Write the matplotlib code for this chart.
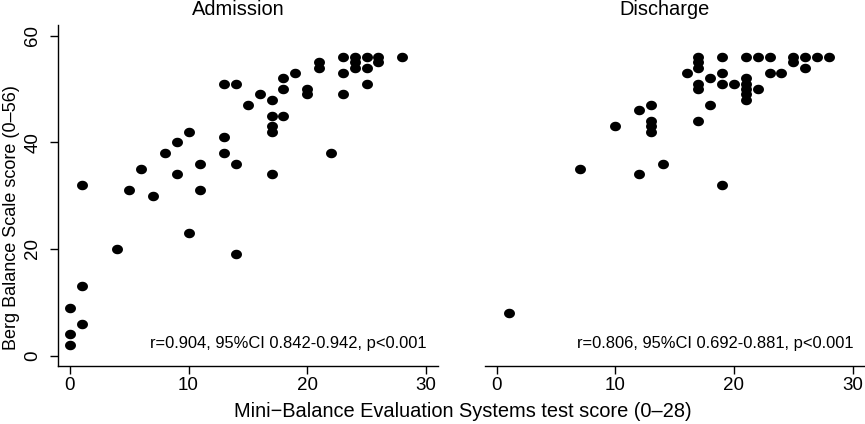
import matplotlib
matplotlib.use("Agg")
import matplotlib.pyplot as plt
import numpy as np
from matplotlib.path import Path

plt.rcParams['font.family'] = ['Liberation Sans', 'DejaVu Sans']

# Admission data (Mini-BESTest, BBS)
adm_x = [0, 0, 0, 1, 1, 1, 4, 5, 6, 7, 8, 9, 9, 10, 10, 11, 11,
         13, 13, 13, 14, 14, 14, 15, 16, 17, 17, 17, 17, 17,
         18, 18, 18, 19, 20, 20, 21, 21, 22, 23, 23, 23,
         24, 24, 24, 25, 25, 25, 26, 26, 28]
adm_y = [2, 4, 9, 6, 13, 32, 20, 31, 35, 30, 38, 34, 40, 42, 23, 31, 36,
         51, 41, 38, 51, 36, 19, 47, 49, 48, 45, 43, 42, 34,
         52, 50, 45, 53, 50, 49, 55, 54, 38, 56, 53, 49,
         56, 55, 54, 56, 54, 51, 56, 55, 56]

# Discharge data
dis_x = [1, 7, 10, 12, 12, 13, 13, 13, 13, 14, 16,
         17, 17, 17, 17, 17, 17, 18, 18, 19, 19, 19, 19, 20,
         21, 21, 21, 21, 21, 21, 22, 22, 23, 23, 24, 25, 25,
         26, 26, 27, 28]
dis_y = [8, 35, 43, 46, 34, 47, 44, 43, 42, 36, 53,
         56, 55, 54, 51, 50, 44, 52, 47, 56, 53, 51, 32, 51,
         56, 52, 51, 50, 49, 48, 56, 50, 56, 53, 53, 56, 55,
         56, 54, 56, 56]

titles = ["Admission", "Discharge"]
annots = ["r=0.904, 95%CI 0.842-0.942, p<0.001",
          "r=0.806, 95%CI 0.692-0.881, p<0.001"]
xticks = [0, 10, 20, 30]
yticks = [0, 20, 40, 60]

W, H = 865, 424
fig = plt.figure(figsize=(W / 100, H / 100), dpi=100)

def ax_rect(l, r, t, b):
    return [l / W, 1 - b / H, (r - l) / W, (b - t) / H]

ax1 = fig.add_axes(ax_rect(58, 437.7, 25, 365.7))
ax2 = fig.add_axes(ax_rect(484.8, 864.5, 25, 365.7))

t = np.linspace(0, 2 * np.pi, 60)
ell = Path(np.column_stack([1.15 * np.cos(t), np.sin(t)]))

for i, (ax, xs, ys) in enumerate([(ax1, adm_x, adm_y), (ax2, dis_x, dis_y)]):
    ax.scatter(xs, ys, s=62, marker=ell, color='black', linewidths=0)
    ax.set_xlim(-1, 31)
    ax.set_ylim(-1.9, 62)
    for s in ['top', 'right']:
        ax.spines[s].set_visible(False)
    ax.spines['bottom'].set_linewidth(1.0)
    ax.spines['left'].set_linewidth(1.0)
    ax.set_xticks(xticks)
    ax.tick_params(axis='both', direction='out', length=6, width=1.0,
                   labelsize=13.5)
    ax.tick_params(axis='x', pad=2)
    ax.tick_params(axis='y', pad=6)
    ax.set_title(titles[i], fontsize=14.4, pad=7, x=0.474)
    ax.text(0.971, 0.052, annots[i], transform=ax.transAxes, ha='right',
            va='baseline', fontsize=11.85)
    if i == 0:
        ax.set_yticks(yticks)
        for lab in ax.get_yticklabels():
            lab.set_rotation(90)
            lab.set_va('center')
    else:
        ax.spines['left'].set_visible(False)
        ax.set_yticks([])

fig.text(12 / W, 1 - 217.5 / H, "Berg Balance Scale score (0\u201356)",
         rotation=90, ha='center', va='center', fontsize=13)
fig.text(463 / W, 1 - 417 / H,
         "Mini\u2212Balance Evaluation Systems test score (0\u201328)",
         ha='center', va='baseline', fontsize=14.4)

fig.savefig("out.png", dpi=100)
